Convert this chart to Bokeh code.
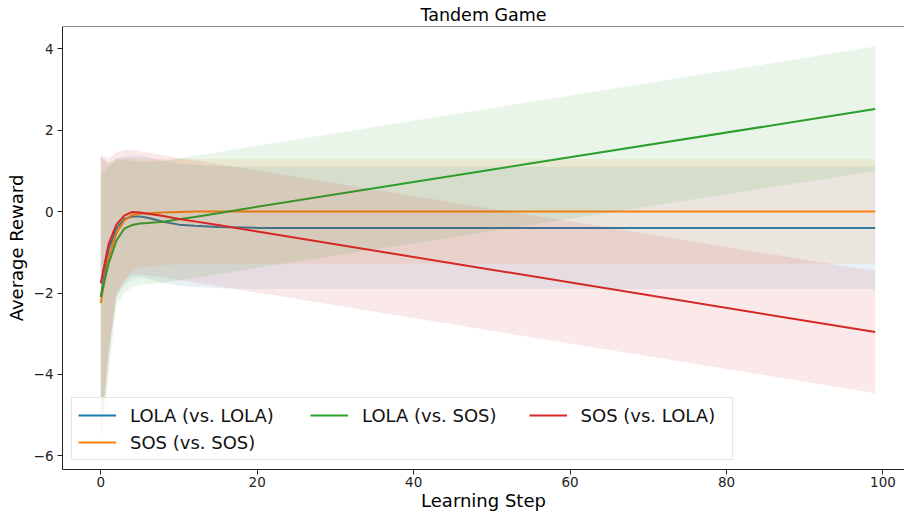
from bokeh.plotting import figure
from bokeh.models import Range1d, FixedTicker, Legend, LegendItem, Span
from bokeh.embed import file_html
from bokeh.resources import INLINE

# ---------------- data ----------------
title_text = "Tandem Game"
x_label = "Learning Step"
y_label = "Average Reward"

steps = [0, 1, 2, 3, 4, 5, 6, 8, 10, 12, 15, 20, 99]

lola_vs_lola = [-2.10, -0.93, -0.42, -0.18, -0.12, -0.12, -0.15, -0.25, -0.32, -0.35, -0.38, -0.40, -0.40]
lola_vs_lola_lo = [-5.70, -3.60, -2.10, -1.80, -1.65, -1.62, -1.65, -1.75, -1.82, -1.85, -1.88, -1.90, -1.90]
lola_vs_lola_hi = [1.35, 1.20, 1.30, 1.35, 1.38, 1.38, 1.35, 1.25, 1.18, 1.15, 1.12, 1.10, 1.10]

sos_vs_sos = [-2.25, -1.12, -0.54, -0.22, -0.08, -0.05, -0.04, -0.02, -0.01, 0.00, 0.00, 0.00, 0.00]
sos_vs_sos_lo = [-5.60, -3.50, -2.10, -1.70, -1.45, -1.38, -1.35, -1.32, -1.30, -1.29, -1.28, -1.28, -1.28]
sos_vs_sos_hi = [1.35, 1.15, 1.30, 1.33, 1.32, 1.30, 1.30, 1.30, 1.29, 1.29, 1.29, 1.29, 1.29]

lola_vs_sos = [-2.10, -1.28, -0.71, -0.42, -0.33, -0.29, -0.28, -0.25, -0.19, -0.13, -0.04, 0.12, 2.52]
lola_vs_sos_lo = [-5.85, -4.00, -2.30, -2.00, -1.85, -1.80, -1.78, -1.75, -1.69, -1.63, -1.54, -1.38, 1.00]
lola_vs_sos_hi = [0.90, 1.10, 1.25, 1.28, 1.25, 1.22, 1.22, 1.25, 1.31, 1.37, 1.46, 1.62, 4.055]

sos_vs_lola = [-1.76, -0.80, -0.32, -0.10, -0.01, -0.02, -0.05, -0.11, -0.18, -0.24, -0.33, -0.49, -2.96]
sos_vs_lola_lo = [-5.50, -3.40, -2.00, -1.70, -1.55, -1.55, -1.57, -1.62, -1.68, -1.74, -1.83, -1.99, -4.46]
sos_vs_lola_hi = [1.40, 1.30, 1.45, 1.52, 1.52, 1.48, 1.45, 1.39, 1.32, 1.26, 1.17, 1.01, -1.46]

series_names = ["LOLA (vs. LOLA)", "SOS (vs. SOS)", "LOLA (vs. SOS)", "SOS (vs. LOLA)"]
series_colors = ["#1f77b4", "#ff7f0e", "#2ca02c", "#d62728"]

x_ticks = [0, 20, 40, 60, 80, 100]
y_ticks = [-6, -4, -2, 0, 2, 4]
y_tick_labels = {-6: "\u22126", -4: "\u22124", -2: "\u22122", 0: "0", 2: "2", 4: "4"}

# ---------------- figure ----------------
FONT = "DejaVu Sans"
Y_TOP = 4.548
p = figure(width=904, height=513, output_backend="svg", toolbar_location=None,
           title=title_text,
           x_range=Range1d(-4.89, 102.75), y_range=Range1d(-6.336, Y_TOP),
           min_border_left=62, min_border_right=0, min_border_top=26, min_border_bottom=44)
p.outline_line_color = None
p.xgrid.visible = False
p.ygrid.visible = False
p.background_fill_color = "white"

p.title.text_font = FONT
p.title.text_font_size = "17.5px"
p.title.text_font_style = "normal"
p.title.text_color = "black"
p.title.align = "center"
p.title.standoff = 4
p.title.offset = 4

for ax in (p.xaxis[0], p.yaxis[0]):
    ax.axis_line_color = "#222222"
    ax.axis_line_width = 1
    ax.major_tick_line_color = "#222222"
    ax.major_tick_out = 5
    ax.major_tick_in = 0
    ax.minor_tick_line_color = None
    ax.major_label_text_font = FONT
    ax.major_label_text_font_size = "13.5px"
    ax.major_label_text_color = "#222222"
    ax.axis_label_text_font = FONT
    ax.axis_label_text_font_size = "18px"
    ax.axis_label_text_font_style = "normal"
    ax.axis_label_text_color = "black"

p.xaxis.ticker = FixedTicker(ticks=x_ticks)
p.xaxis.major_label_standoff = 2
p.xaxis.axis_label = x_label
p.xaxis.axis_label_standoff = 0
p.yaxis.ticker = FixedTicker(ticks=y_ticks)
p.yaxis.major_label_overrides = y_tick_labels
p.yaxis.major_label_standoff = 4
p.yaxis.axis_label = y_label
p.yaxis.axis_label_standoff = 4

# top spine
p.add_layout(Span(location=Y_TOP, dimension="width", line_color="#222222", line_width=1))

datasets = [
    (lola_vs_lola, lola_vs_lola_lo, lola_vs_lola_hi),
    (sos_vs_sos, sos_vs_sos_lo, sos_vs_sos_hi),
    (lola_vs_sos, lola_vs_sos_lo, lola_vs_sos_hi),
    (sos_vs_lola, sos_vs_lola_lo, sos_vs_lola_hi),
]
line_renderers = []
for (mean, lo, hi), color in zip(datasets, series_colors):
    r = p.line(steps, mean, line_color=color, line_width=2)
    p.varea(x=steps, y1=lo, y2=hi, fill_color=color, fill_alpha=0.1)
    line_renderers.append(r)

# ---------------- legend (matplotlib ncol=3 layout) ----------------
common = dict(glyph_width=38, glyph_height=22, label_height=22, label_standoff=14,
              label_text_font=FONT, label_text_font_size="18px", label_text_color="#111111",
              padding=6, spacing=5, margin=0)
leg_a = Legend(items=[LegendItem(label=series_names[0], renderers=[line_renderers[0]]),
                      LegendItem(label=series_names[1], renderers=[line_renderers[1]])],
               location=(9, 9), orientation="vertical", label_width=596,
               border_line_color="#cccccc", border_line_width=1,
               background_fill_color="white", background_fill_alpha=0.8, **common)
leg_b = Legend(items=[LegendItem(label=series_names[2], renderers=[line_renderers[2]]),
                      LegendItem(label=series_names[3], renderers=[line_renderers[3]])],
               location=(248, 43), orientation="horizontal",
               border_line_color=None, background_fill_alpha=0.0,
               **{**common, "spacing": 32})
p.add_layout(leg_a)
p.add_layout(leg_b)

open("out.html", "w").write(file_html(p, INLINE))
